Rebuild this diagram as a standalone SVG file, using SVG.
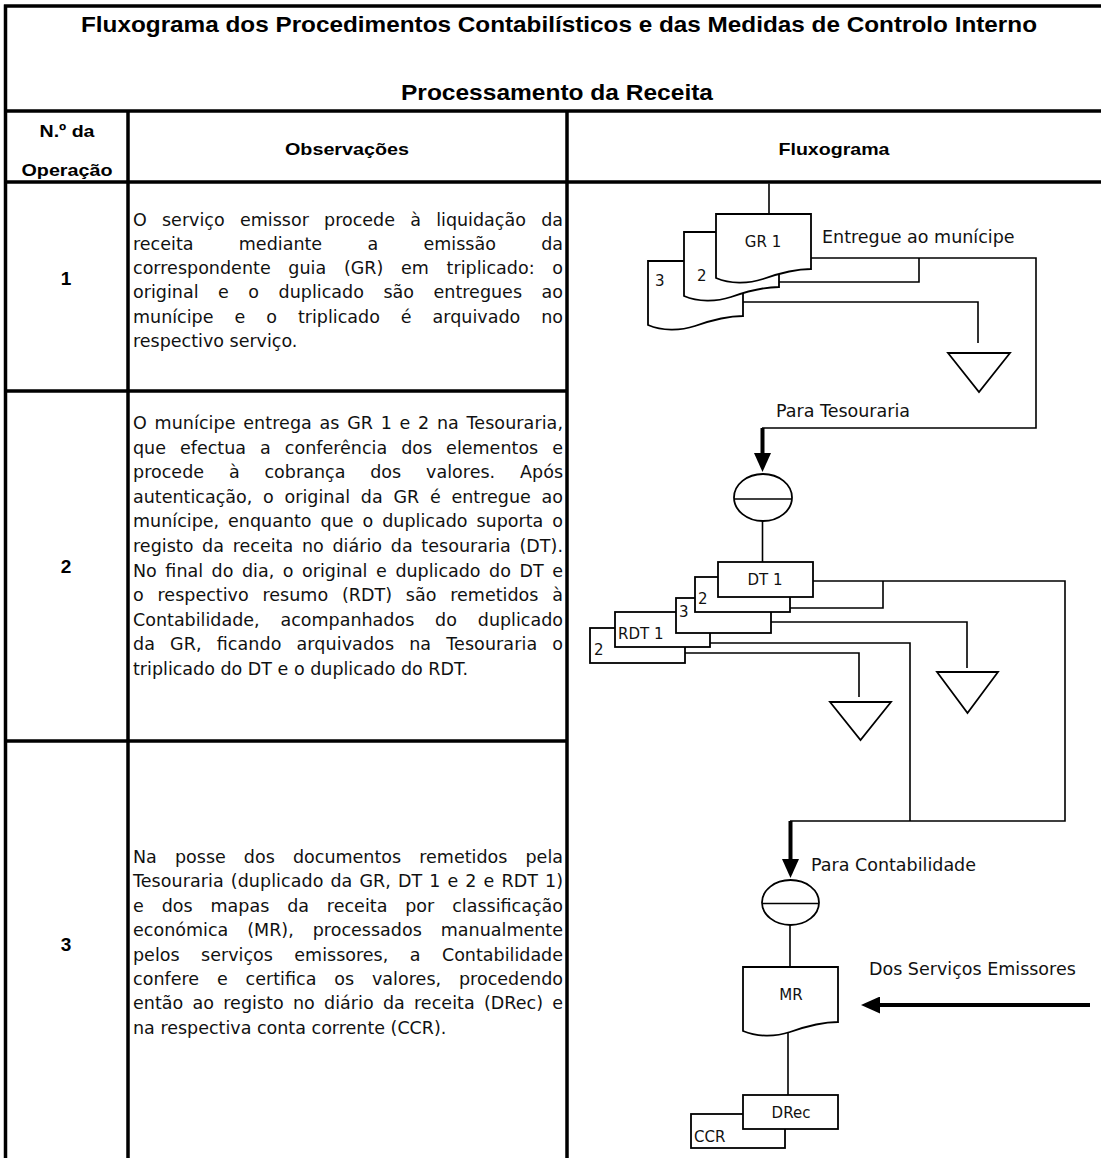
<svg xmlns="http://www.w3.org/2000/svg" width="1101" height="1158" viewBox="0 0 1101 1158">
<defs>
<style>
.grid{stroke:#000;stroke-width:3.5;fill:none}
.ln{stroke:#000;stroke-width:1.6;fill:none}
.box{stroke:#000;stroke-width:1.8;fill:#fff}
.thick{stroke:#000;stroke-width:4;fill:none}
.ttl{font-family:"Liberation Sans",Arial,sans-serif;font-weight:bold;font-size:22px;text-anchor:middle}
.hd{font-family:"Liberation Sans",Arial,sans-serif;font-weight:bold;font-size:17px;text-anchor:middle}
.num{font-family:"Liberation Sans",Arial,sans-serif;font-weight:bold;font-size:19px;text-anchor:middle}
.body{font-family:"DejaVu Sans",sans-serif;font-size:17.5px;fill:#111}
.lbl{font-family:"DejaVu Sans",sans-serif;font-size:17.5px;fill:#111}
.bl{font-family:"DejaVu Sans",sans-serif;font-size:15px;fill:#111}
.mid{text-anchor:middle}
</style>
<marker id="ah" viewBox="0 0 19 17" refX="0" refY="8.5" markerWidth="19" markerHeight="17" markerUnits="userSpaceOnUse" orient="auto"><path d="M0,0 L19,8.5 L0,17 Z" fill="#000"/></marker>
<path id="doc" d="M0,0 H95 V55 C79,55 64,59 47,65 C32,70 14,70 0,64 Z"/>
</defs>
<rect width="1101" height="1158" fill="#fff"/>

<g id="table">
<path class="grid" d="M4,6 H1101 M5.5,4.5 V1158 M4,111 H1101 M4,182 H1101 M128,111 V1158 M567,111 V1158 M4,391 H567 M4,741 H567"/>
<text class="ttl" x="559" y="32" textLength="956" lengthAdjust="spacingAndGlyphs">Fluxograma dos Procedimentos Contabilísticos e das Medidas de Controlo Interno</text>
<text class="ttl" x="557" y="100" textLength="312" lengthAdjust="spacingAndGlyphs">Processamento da Receita</text>
<text class="hd" x="67" y="137" textLength="55" lengthAdjust="spacingAndGlyphs">N.º da</text>
<text class="hd" x="67" y="176" textLength="91" lengthAdjust="spacingAndGlyphs">Operação</text>
<text class="hd" x="347" y="155" textLength="124" lengthAdjust="spacingAndGlyphs">Observações</text>
<text class="hd" x="834" y="155" textLength="111" lengthAdjust="spacingAndGlyphs">Fluxograma</text>
</g>

<g id="row1">
<text class="num" x="66" y="285">1</text>
<text class="body" x="133" y="226" textLength="430" lengthAdjust="spacing" style="word-spacing:9.6px">O serviço emissor procede à liquidação da</text>
<text class="body" x="133" y="250" textLength="430" lengthAdjust="spacing" style="word-spacing:39.7px">receita mediante a emissão da</text>
<text class="body" x="133" y="274" textLength="430" lengthAdjust="spacing" style="word-spacing:12.1px">correspondente guia (GR) em triplicado: o</text>
<text class="body" x="133" y="298" textLength="430" lengthAdjust="spacing" style="word-spacing:13.9px">original e o duplicado são entregues ao</text>
<text class="body" x="133" y="323" textLength="430" lengthAdjust="spacing" style="word-spacing:15.4px">munícipe e o triplicado é arquivado no</text>
<text class="body" x="133" y="347">respectivo serviço.</text>
</g>

<g id="row2">
<text class="num" x="66" y="573">2</text>
<text class="body" x="133" y="429" textLength="430" lengthAdjust="spacing" style="word-spacing:2px">O munícipe entrega as GR 1 e 2 na Tesouraria,</text>
<text class="body" x="133" y="453.6" textLength="430" lengthAdjust="spacing" style="word-spacing:8.4px">que efectua a conferência dos elementos e</text>
<text class="body" x="133" y="478.2" textLength="430" lengthAdjust="spacing" style="word-spacing:19.2px">procede à cobrança dos valores. Após</text>
<text class="body" x="133" y="502.8" textLength="430" lengthAdjust="spacing" style="word-spacing:5.2px">autenticação, o original da GR é entregue ao</text>
<text class="body" x="133" y="527.4" textLength="430" lengthAdjust="spacing" style="word-spacing:3.4px">munícipe, enquanto que o duplicado suporta o</text>
<text class="body" x="133" y="552" textLength="430" lengthAdjust="spacing" style="word-spacing:3.1px">registo da receita no diário da tesouraria (DT).</text>
<text class="body" x="133" y="576.6" textLength="430" lengthAdjust="spacing" style="word-spacing:3px">No final do dia, o original e duplicado do DT e</text>
<text class="body" x="133" y="601.2" textLength="430" lengthAdjust="spacing" style="word-spacing:8.2px">o respectivo resumo (RDT) são remetidos à</text>
<text class="body" x="133" y="625.8" textLength="430" lengthAdjust="spacing" style="word-spacing:15.3px">Contabilidade, acompanhados do duplicado</text>
<text class="body" x="133" y="650.4" textLength="430" lengthAdjust="spacing" style="word-spacing:9.4px">da GR, ficando arquivados na Tesouraria o</text>
<text class="body" x="133" y="675">triplicado do DT e o duplicado do RDT.</text>
</g>

<g id="row3">
<text class="num" x="66" y="951">3</text>
<text class="body" x="133" y="863" textLength="430" lengthAdjust="spacing" style="word-spacing:12.5px">Na posse dos documentos remetidos pela</text>
<text class="body" x="133" y="887.4" textLength="430" lengthAdjust="spacing" style="word-spacing:1.4px">Tesouraria (duplicado da GR, DT 1 e 2 e RDT 1)</text>
<text class="body" x="133" y="911.8" textLength="430" lengthAdjust="spacing" style="word-spacing:12.3px">e dos mapas da receita por classificação</text>
<text class="body" x="133" y="936.2" textLength="430" lengthAdjust="spacing" style="word-spacing:13.4px">económica (MR), processados manualmente</text>
<text class="body" x="133" y="960.6" textLength="430" lengthAdjust="spacing" style="word-spacing:15.9px">pelos serviços emissores, a Contabilidade</text>
<text class="body" x="133" y="985" textLength="430" lengthAdjust="spacing" style="word-spacing:12.2px">confere e certifica os valores, procedendo</text>
<text class="body" x="133" y="1009.4" textLength="430" lengthAdjust="spacing" style="word-spacing:3.6px">então ao registo no diário da receita (DRec) e</text>
<text class="body" x="133" y="1033.8">na respectiva conta corrente (CCR).</text>
</g>

<g id="connectors">
<path class="ln" d="M769,183.5 V214"/>
<path class="ln" d="M811,258 H1036 V428 H762"/>
<path class="thick" d="M762.5,428 V453" marker-end="url(#ah)"/>
<path class="ln" d="M919,258 V282 H779"/>
<path class="ln" d="M743,302 H978 V343"/>
<path class="ln" d="M762.5,521 V562"/>
<path class="ln" d="M813,581 H1065 V821 H790"/>
<path class="thick" d="M790.5,821 V859" marker-end="url(#ah)"/>
<path class="ln" d="M883,581 V608 H790"/>
<path class="ln" d="M771,622 H967 V668"/>
<path class="ln" d="M710,643 H910 V821"/>
<path class="ln" d="M685,653 H859 V697"/>
<path class="ln" d="M790,925 V967"/>
<path class="thick" d="M1090,1005 H880" marker-end="url(#ah)"/>
<path class="ln" d="M788,1031 V1095"/>
</g>

<g id="gr-stack">
<use href="#doc" class="box" x="648" y="261"/>
<text class="bl" x="655" y="286">3</text>
<use href="#doc" class="box" x="684" y="232"/>
<text class="bl" x="697" y="281">2</text>
<use href="#doc" class="box" x="716" y="214"/>
<text class="bl mid" x="763" y="247">GR 1</text>
</g>
<text id="lbl-entregue" class="lbl" x="822" y="243">Entregue ao munícipe</text>

<g id="archive-gr">
<path class="box" d="M948,353 H1010 L979,392 Z"/>
</g>

<text id="lbl-tesouraria" class="lbl" x="776" y="417">Para Tesouraria</text>

<g id="tesouraria-store">
<ellipse class="box" cx="763" cy="497.5" rx="29" ry="23.5"/>
<path class="ln" d="M734,499 H792"/>
</g>

<g id="dt-stack">
<rect class="box" x="590" y="628" width="95" height="35"/>
<text class="bl" x="594" y="655">2</text>
<rect class="box" x="615" y="612" width="95" height="35"/>
<text class="bl" x="618" y="639">RDT 1</text>
<rect class="box" x="676" y="598" width="95" height="35"/>
<text class="bl" x="679" y="617">3</text>
<rect class="box" x="695" y="577" width="95" height="35"/>
<text class="bl" x="698" y="604">2</text>
<rect class="box" x="718" y="562" width="95" height="35"/>
<text class="bl mid" x="765" y="585">DT 1</text>
</g>

<g id="archive-dt">
<path class="box" d="M937,672 H998 L967.5,713 Z"/>
</g>
<g id="archive-rdt">
<path class="box" d="M830,702 H891 L860.5,740 Z"/>
</g>

<text id="lbl-contabilidade" class="lbl" x="811" y="871">Para Contabilidade</text>

<g id="contabilidade-store">
<ellipse class="box" cx="790.5" cy="902.5" rx="28.5" ry="22.5"/>
<path class="ln" d="M762,903.5 H819"/>
</g>

<g id="mr">
<use href="#doc" class="box" x="743" y="967"/>
<text class="bl mid" x="791" y="1000">MR</text>
</g>

<text id="lbl-servicos" class="lbl" x="869" y="975">Dos Serviços Emissores</text>

<g id="drec-ccr">
<rect class="box" x="691" y="1114" width="94" height="34"/>
<text class="bl" x="694" y="1142">CCR</text>
<rect class="box" x="743" y="1095" width="95" height="34"/>
<text class="bl mid" x="791" y="1118">DRec</text>
</g>
</svg>
